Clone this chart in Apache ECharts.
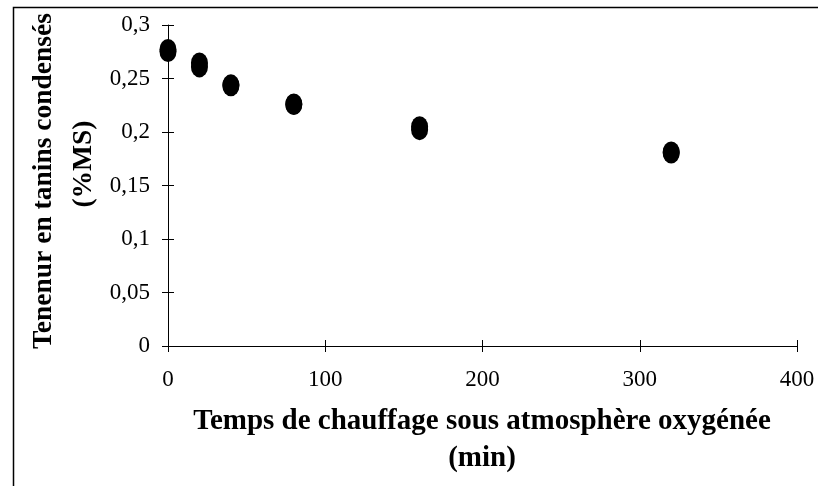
<!DOCTYPE html>
<html><head><meta charset="utf-8">
<script src="https://cdn.jsdelivr.net/npm/echarts@6/dist/echarts.min.js"></script>
<style>html,body{margin:0;padding:0;background:#fff}#c{width:818px;height:486px}</style>
</head><body><div id="c"></div>
<script>
var times = [0, 0, 20, 20, 40, 40, 80, 80, 160, 160, 320, 320];
var tanins = [0.2771, 0.2752, 0.2645, 0.2608, 0.2441, 0.2432, 0.2262, 0.2256, 0.2050, 0.2022, 0.1813, 0.1804];
var xTicks = ['0', '100', '200', '300', '400'];
var yTitle1 = 'Tenenur en tanins condensés';
var yTitle2 = '(%MS)';
var xTitle1 = 'Temps de chauffage sous atmosphère oxygénée';
var xTitle2 = '(min)';

var font = '"Liberation Serif","Times New Roman",serif';
var chart = echarts.init(document.getElementById('c'));
var pts = times.map(function(t, i){ return [t, tanins[i]]; });
var axBase = {type:'value', min:0, splitLine:{show:false}};
chart.setOption({
  animation:false,
  grid:{left:168, top:25, right:21, bottom:140},
  xAxis:[
    Object.assign({}, axBase, {max:400, interval:100, position:'bottom',
      axisLine:{lineStyle:{color:'#000', width:1}},
      axisTick:{inside:false, length:6, lineStyle:{color:'#000'}},
      axisLabel:{color:'#000', fontFamily:font, fontSize:23, margin:22,
        formatter:function(v){ return xTicks[Math.round(v/100)]; }}}),
    Object.assign({}, axBase, {max:400, interval:100, position:'bottom',
      axisLine:{show:false},
      axisTick:{inside:true, length:6, lineStyle:{color:'#000'}},
      axisLabel:{show:false}})
  ],
  yAxis:[
    Object.assign({}, axBase, {max:0.3, interval:0.05, position:'left',
      axisLine:{show:true, lineStyle:{color:'#000', width:1}},
      axisTick:{show:true, inside:false, length:6, lineStyle:{color:'#000'}},
      axisLabel:{color:'#000', fontFamily:font, fontSize:23, margin:18,
        formatter:function(v){ return String(+v.toFixed(2)).replace('.', ','); }}}),
    Object.assign({}, axBase, {max:0.3, interval:0.05, position:'left',
      axisLine:{show:false},
      axisTick:{show:true, inside:true, length:6, lineStyle:{color:'#000'}},
      axisLabel:{show:false}})
  ],
  series:[{
    type:'scatter', xAxisIndex:0, yAxisIndex:0, data:pts,
    symbol:'circle', symbolSize:[17, 21],
    itemStyle:{color:'#000', opacity:1}
  }],
  graphic:[
    {type:'rect', left:11, top:5, shape:{width:840, height:520}, style:{fill:null, stroke:'#000', lineWidth:1.5}, z:-1},
    {type:'text', x:482, y:422, style:{text:xTitle1, font:'bold 29px '+font, fill:'#000', align:'center', verticalAlign:'middle'}},
    {type:'text', x:482, y:459, style:{text:xTitle2, font:'bold 29px '+font, fill:'#000', align:'center', verticalAlign:'middle'}},
    {type:'text', x:44, y:181, rotation:Math.PI/2, style:{text:yTitle1, font:'bold 27.5px '+font, fill:'#000', align:'center', verticalAlign:'middle'}},
    {type:'text', x:84, y:164, rotation:Math.PI/2, style:{text:yTitle2, font:'bold 27.5px '+font, fill:'#000', align:'center', verticalAlign:'middle'}}
  ]
});
</script></body></html>
